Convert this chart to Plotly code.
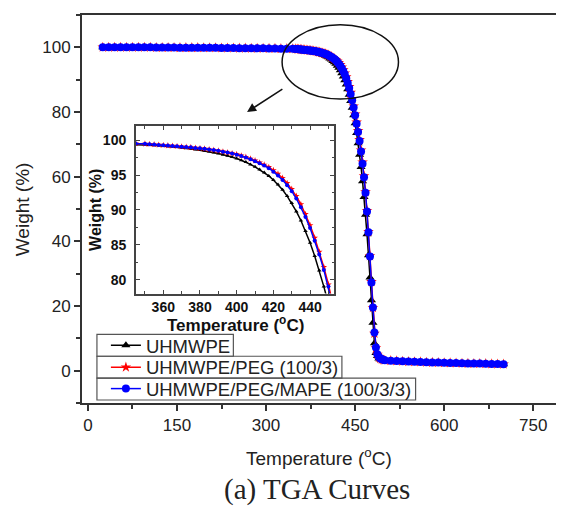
import plotly.graph_objects as go

# ---------------- data ----------------
temperature = [25, 35, 45, 55, 65, 75, 85, 95, 105, 115, 125, 135, 145, 155, 165, 175, 185, 195, 205, 215,
               225, 235, 245, 255, 265, 275, 285, 295, 305, 315, 325, 335, 345,
               350, 352.5, 355, 357.5, 360, 362.5, 365, 367.5, 370, 372.5, 375, 377.5, 380, 382.5, 385, 387.5,
               390, 392.5, 395, 397.5, 400, 402.5, 405, 407.5, 410, 412.5, 415, 417.5, 420, 422.5, 425, 427.5,
               430, 432.5, 435, 437.5, 440, 442.5, 445, 447.5, 450,
               452.5, 455, 457.5, 460, 462.5, 465, 467.5, 470, 472.5, 475, 477.5, 480, 482.5, 485, 487.5, 490,
               492.5, 495, 497.5, 500,
               510, 520, 530, 540, 550, 560, 570, 580, 590, 600, 610, 620, 630, 640, 650, 660, 670, 680, 690, 700]

w_uhmwpe = [100.0, 100.0, 100.0, 100.0, 100.0, 100.0, 100.0, 100.0, 100.0, 99.95, 99.95, 99.95, 99.9, 99.9,
            99.9, 99.9, 99.85, 99.85, 99.8, 99.8, 99.8, 99.75, 99.75, 99.7, 99.7, 99.65, 99.65, 99.6, 99.6,
            99.55, 99.5, 99.5, 99.45,
            99.40, 99.35, 99.30, 99.25, 99.20, 99.15, 99.10, 99.03, 98.95, 98.88, 98.80, 98.70, 98.60, 98.50,
            98.40, 98.25, 98.10, 97.95, 97.80, 97.60, 97.40, 97.15, 96.90, 96.55, 96.20, 95.80, 95.40, 94.90,
            94.30, 93.65, 92.90, 92.00, 91.00, 89.80, 88.50, 87.00, 85.30, 83.40, 81.30, 79.00, 76.50,
            73.5, 70.3, 66.8, 63.0, 58.6, 53.7, 48.2, 42.2, 35.7, 28.8, 21.8, 14.8, 8.5, 5.5, 4.5, 3.8,
            3.5, 3.3, 3.2, 3.1,
            3.0, 2.9, 2.8, 2.75, 2.7, 2.6, 2.55, 2.5, 2.45, 2.4, 2.35, 2.3, 2.25, 2.2, 2.2, 2.15, 2.1, 2.05,
            2.0, 2.0]

w_peg = [100.0, 100.0, 100.0, 100.0, 100.0, 100.0, 100.0, 100.0, 100.0, 99.95, 99.95, 99.95, 99.95, 99.9,
         99.9, 99.9, 99.9, 99.85, 99.85, 99.85, 99.8, 99.8, 99.8, 99.75, 99.75, 99.7, 99.7, 99.7, 99.65,
         99.65, 99.6, 99.6, 99.55,
         99.50, 99.45, 99.40, 99.35, 99.30, 99.25, 99.20, 99.15, 99.10, 99.05, 99.00, 98.92, 98.85, 98.78,
         98.70, 98.60, 98.50, 98.38, 98.25, 98.12, 98.00, 97.80, 97.60, 97.35, 97.10, 96.80, 96.50, 96.15,
         95.70, 95.20, 94.60, 93.85, 93.00, 92.00, 90.80, 89.40, 87.80, 86.00, 84.00, 81.80, 79.30,
         76.8, 74.2, 71.4, 68.2, 64.5, 60.2, 55.3, 49.5, 43.0, 35.5, 27.5, 19.5, 11.5, 7.0, 5.0, 4.1,
         3.7, 3.5, 3.3, 3.2,
         3.1, 3.0, 2.9, 2.8, 2.75, 2.7, 2.6, 2.55, 2.5, 2.45, 2.4, 2.35, 2.3, 2.25, 2.2, 2.2, 2.15, 2.1,
         2.05, 2.0]

w_mape = [100.0, 100.0, 100.0, 100.0, 100.0, 100.0, 100.0, 100.0, 100.0, 99.95, 99.95, 99.95, 99.95, 99.9,
          99.9, 99.9, 99.9, 99.85, 99.85, 99.85, 99.8, 99.8, 99.8, 99.75, 99.75, 99.7, 99.7, 99.7, 99.65,
          99.65, 99.6, 99.6, 99.55,
          99.50, 99.45, 99.40, 99.35, 99.30, 99.25, 99.20, 99.15, 99.10, 99.05, 99.00, 98.92, 98.85, 98.78,
          98.70, 98.60, 98.50, 98.38, 98.25, 98.12, 97.95, 97.75, 97.55, 97.28, 97.00, 96.70, 96.40, 96.00,
          95.50, 94.95, 94.30, 93.55, 92.70, 91.65, 90.40, 89.00, 87.40, 85.60, 83.60, 81.40, 79.00,
          76.4, 73.8, 71.0, 67.8, 64.0, 59.8, 55.0, 49.2, 42.8, 35.3, 27.3, 19.5, 11.8, 7.2, 5.1, 4.2,
          3.8, 3.5, 3.35, 3.25,
          3.1, 3.0, 2.9, 2.8, 2.75, 2.7, 2.6, 2.55, 2.5, 2.45, 2.4, 2.35, 2.3, 2.25, 2.2, 2.2, 2.15, 2.1,
          2.05, 2.0]

series_names = ["UHMWPE", "UHMWPE/PEG (100/3)", "UHMWPE/PEG/MAPE (100/3/3)"]
x_ticks_main = [0, 150, 300, 450, 600, 750]
y_ticks_main = [0, 20, 40, 60, 80, 100]
x_ticks_inset = [360, 380, 400, 420, 440]
y_ticks_inset = [80, 85, 90, 95, 100]

# ---------------- styling ----------------
FONT = "Liberation Sans, Arial, sans-serif"
colors = ["#000000", "#ff0000", "#0000ff"]
symbols = ["triangle-up", "star", "circle"]
main_sizes = [8, 8, 8]
inset_sizes = [4, 5, 4]
series = [w_uhmwpe, w_peg, w_mape]
legend_ids = ["legend", "legend2", "legend3"]

# page is shown with an 8px body margin; work in page pixels
OFF = 8
PAGE_W, PAGE_H = 564, 513
L, R, T, B = 82, 559, 13, 403          # plot area in page pixels
W, H = PAGE_W - OFF, PAGE_H - OFF
def px(x):
    return (x - L) / (R - L)
def py(y):
    return (B - y) / (B - T)

fig = go.Figure()
for name, ys, c, s, ms, lg in zip(series_names, series, colors, symbols, main_sizes, legend_ids):
    fig.add_trace(go.Scatter(x=temperature, y=ys, name=name, mode="lines+markers", legend=lg,
                             line=dict(color=c, width=1.5),
                             marker=dict(symbol=s, size=ms, color=c, line=dict(width=0)),
                             xaxis="x", yaxis="y"))
for name, ys, c, s, ms in zip(series_names, series, colors, symbols, inset_sizes):
    fig.add_trace(go.Scatter(x=temperature, y=ys, name=name, mode="lines+markers", showlegend=False,
                             line=dict(color=c, width=1.5),
                             marker=dict(symbol=s, size=ms, color=c, line=dict(width=0)),
                             xaxis="x2", yaxis="y2"))

axis_line = "#333333"
legend_font = dict(size=18.5, family=FONT, color="#222222")
def legend_at(cy):
    return dict(x=px(106), y=py(cy), xanchor="left", yanchor="middle", bgcolor="rgba(0,0,0,0)",
                borderwidth=0, font=legend_font, itemsizing="trace")

fig.update_layout(
    width=W, height=H,
    margin=dict(l=L - OFF, r=PAGE_W - R, t=T - OFF, b=PAGE_H - B),
    paper_bgcolor="white", plot_bgcolor="white",
    font=dict(family=FONT, color="#222222"),
    showlegend=True,
    legend=legend_at(345.5),
    legend2=legend_at(367.5),
    legend3=legend_at(389),
    xaxis=dict(range=[-10, 790], tickvals=x_ticks_main, ticks="outside", ticklen=6, tickwidth=1.5,
               tickcolor=axis_line, minor=dict(dtick=75, tick0=0, ticks="outside", ticklen=4,
                                               tickwidth=1.5, tickcolor=axis_line),
               showline=True, linewidth=2, linecolor=axis_line, mirror=True, showgrid=False,
               zeroline=False, tickfont=dict(size=17, family=FONT, color="#222222")),
    yaxis=dict(range=[-10, 110], tickvals=y_ticks_main, ticks="outside", ticklen=6, tickwidth=1.5,
               tickcolor=axis_line, minor=dict(dtick=10, tick0=0, ticks="outside", ticklen=4,
                                               tickwidth=1.5, tickcolor=axis_line),
               showline=True, linewidth=2, linecolor=axis_line, mirror=True, showgrid=False,
               zeroline=False, tickfont=dict(size=17, family=FONT, color="#222222")),
    xaxis2=dict(domain=[px(136), px(335)], anchor="y2", range=[345, 453], tickvals=x_ticks_inset,
                ticks="inside", ticklen=4, tickwidth=1, tickcolor="#444444",
                minor=dict(dtick=10, tick0=0, ticks="inside", ticklen=2.5, tickwidth=1, tickcolor="#444444"),
                showline=True, linewidth=1.5, linecolor="#444444", mirror="ticks", showgrid=False,
                zeroline=False, tickfont=dict(size=14, family=FONT, color="#111111", weight="bold")),
    yaxis2=dict(domain=[py(293), py(125)], anchor="x2", range=[78, 102], tickvals=y_ticks_inset,
                ticks="inside", ticklen=4, tickwidth=1, tickcolor="#444444", ticklabelstandoff=5,
                minor=dict(dtick=2.5, tick0=0, ticks="inside", ticklen=2.5, tickwidth=1, tickcolor="#444444"),
                showline=True, linewidth=1.5, linecolor="#444444", mirror="ticks", showgrid=False,
                zeroline=False, tickfont=dict(size=14, family=FONT, color="#111111", weight="bold")),
)

# separate legend boxes (Origin style)
for (x0, y0, x1, y1) in [(97, 334, 234, 356), (97, 356, 343, 378), (97, 378, 417, 400)]:
    fig.add_shape(type="rect", xref="paper", yref="paper", x0=px(x0), x1=px(x1), y0=py(y1), y1=py(y0),
                  line=dict(color="#555555", width=1.2), fillcolor="rgba(0,0,0,0)", layer="above")

# ellipse highlighting the onset region and arrow to inset
fig.add_shape(type="circle", xref="x", yref="y", x0=327, x1=523, y0=84, y1=107,
              line=dict(color="#111111", width=1.5))
fig.add_annotation(x=268, y=80, ax=330, ay=87.4, xref="x", yref="y", axref="x", ayref="y",
                   text="", showarrow=True, arrowhead=2, arrowsize=1.2, arrowwidth=1.5, arrowcolor="#111111")

# titles
def label(text, x, y, size, angle=0, bold=False, family=FONT, color="#222222"):
    f = dict(size=size, family=family, color=color)
    if bold:
        f["weight"] = "bold"
    fig.add_annotation(text=text, xref="paper", yref="paper", x=px(x), y=py(y), showarrow=False,
                       xanchor="center", yanchor="middle", textangle=angle, font=f)

label("Weight (%)", 22, 208, 19, angle=-90)
label("Temperature (<sup>o</sup>C)", 320, 457, 19)
label("(a) TGA Curves", 318, 490, 29, family="Liberation Serif, Times New Roman, serif")
label("Weight (%)", 96, 209, 16, angle=-90, bold=True, color="#111111")
label("Temperature (<sup>o</sup>C)", 236, 324, 17, bold=True, color="#111111")

fig.write_html("out.html")
